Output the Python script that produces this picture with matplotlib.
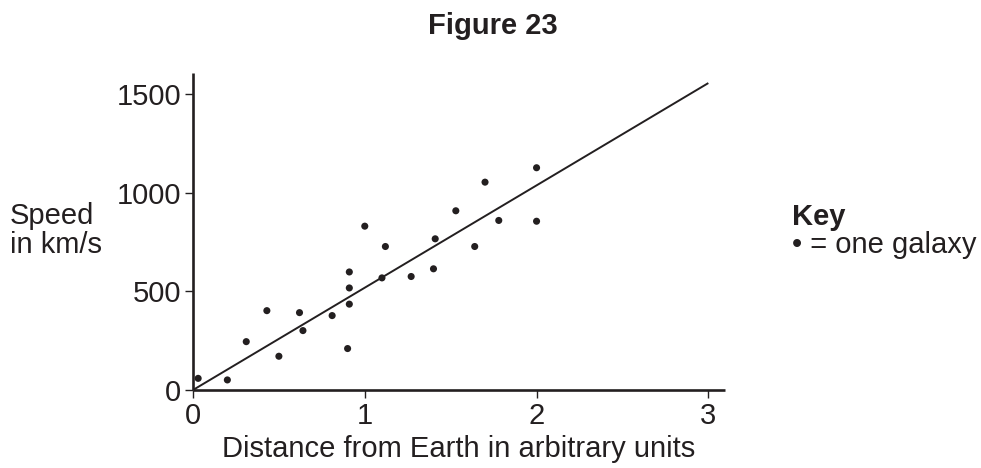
import matplotlib
matplotlib.use("Agg")
import matplotlib.pyplot as plt

plt.rcParams['font.family'] = ['Liberation Sans', 'DejaVu Sans']

INK = '#231f20'
FS = 21

# Distance (arbitrary units) and speed (km/s) for each galaxy
distance = [0.03, 0.20, 0.31, 0.43, 0.50, 0.62, 0.64, 0.81, 0.91, 0.91, 0.91, 0.90,
            1.00, 1.10, 1.12, 1.27, 1.40, 1.41, 1.53, 1.64, 1.70, 1.78, 2.00, 2.00]
speed = [59, 51, 245, 402, 171, 392, 301, 377, 598, 517, 435, 210,
         830, 568, 727, 575, 614, 766, 908, 727, 1053, 859, 1126, 855]

# Line of best fit end points
fit_x = [0, 3]
fit_y = [0, 1555]

xticks = [0, 1, 2, 3]
yticks = [0, 500, 1000, 1500]

W, H = 981, 468
fig = plt.figure(figsize=(W / 100, H / 100), dpi=100)
ax = fig.add_axes([193 / W, (H - 390) / H, (725 - 193) / W, (390 - 73) / H])

ax.plot(fit_x, fit_y, color=INK, lw=1.4, solid_capstyle='butt')
ax.scatter(distance, speed, s=26, color=INK, edgecolors='none', zorder=3)

ax.set_xlim(0, 3.097)
ax.set_ylim(0, 1606)
ax.set_xticks(xticks)
ax.set_yticks(yticks)
ax.set_xticklabels([str(t) for t in xticks])
ax.set_yticklabels([str(t) for t in yticks])

for s in ['top', 'right']:
    ax.spines[s].set_visible(False)
for s in ['left', 'bottom']:
    ax.spines[s].set_linewidth(1.9)
    ax.spines[s].set_color(INK)
    ax.spines[s].set_capstyle('butt')

ax.tick_params(axis='both', direction='out', length=5.5, width=1.0, color=INK,
               labelsize=FS, labelcolor=INK, pad=3)

ax.set_xlabel('Distance from Earth in arbitrary units', fontsize=FS, color=INK, labelpad=4)

fig.text(493 / W, 1 - 34 / H, 'Figure 23', fontsize=FS, fontweight='bold', color=INK,
         ha='center', va='baseline')
fig.text(10 / W, 1 - 224 / H, 'Speed', fontsize=FS, color=INK, ha='left', va='baseline')
fig.text(10 / W, 1 - 253 / H, 'in km/s', fontsize=FS, color=INK, ha='left', va='baseline')
fig.text(792 / W, 1 - 225 / H, 'Key', fontsize=FS, fontweight='bold', color=INK,
         ha='left', va='baseline')
fig.text(792 / W, 1 - 253 / H, '\u2022 = one galaxy', fontsize=FS, color=INK,
         ha='left', va='baseline')

fig.savefig('out.png', dpi=100, facecolor='white')
